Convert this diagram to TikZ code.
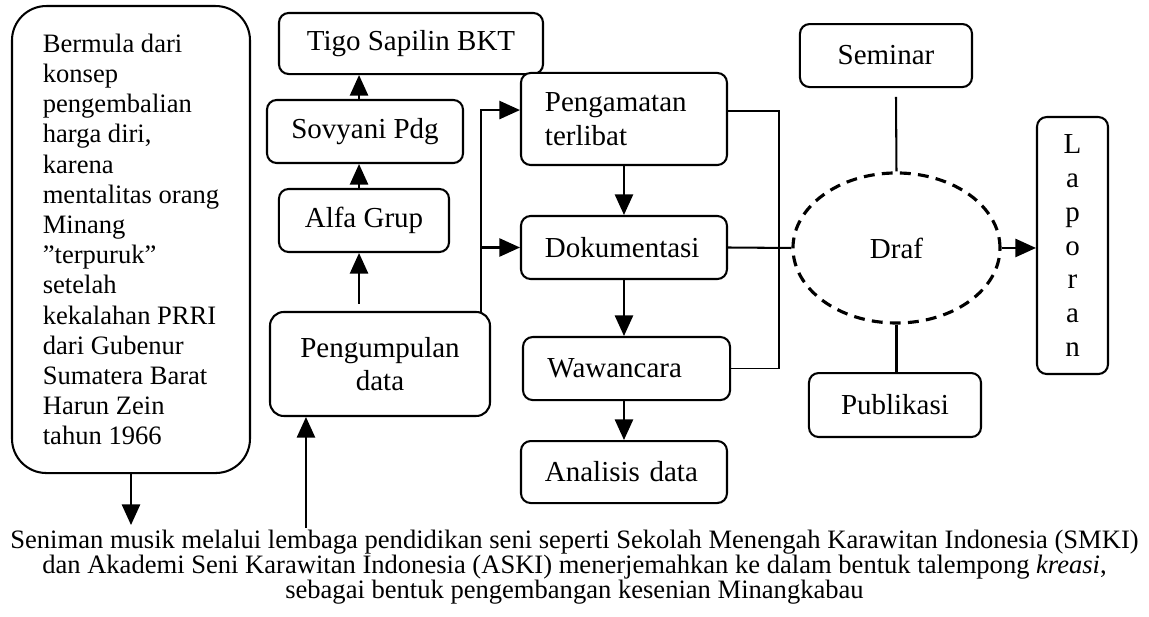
\documentclass[tikz,border=0pt]{standalone}
\usepackage{fontspec}
\setmainfont{Liberation Serif}
\usetikzlibrary{arrows.meta}
\usetikzlibrary{shapes.geometric}
\pgfdeclarelayer{edgelayer}
\pgfdeclarelayer{nodelayer}
\pgfsetlayers{edgelayer,nodelayer,main}
\tikzstyle{none}=[inner sep=0pt]
\tikzstyle{box}=[rectangle,rounded corners=4pt,fill=white,draw=black,line width=0.85pt,inner sep=2pt,align=center,font=\fontsize{12}{14}\selectfont]
\tikzstyle{listbox}=[box,text width=2.3cm,align=left]
\tikzstyle{notebox}=[box,rounded corners=0.5cm,align=left,font=\fontsize{11}{12.5}\selectfont]
\tikzstyle{draft}=[ellipse,fill=white,draw=black,line width=1.3pt,dash pattern=on 4.5pt off 3pt,inner sep=0pt,font=\fontsize{12}{14}\selectfont]
\tikzstyle{caption}=[inner sep=0pt,align=center,font=\fontsize{11}{10.4}\selectfont]
\tikzstyle{transition}=[-{Triangle[length=8.5pt,width=7.5pt]},draw=black,line width=0.85pt]
\tikzstyle{simple}=[-,draw=black,line width=0.85pt]
\tikzstyle{bracket}=[-,draw=black,line width=0.65pt]

\begin{document}
\begin{tikzpicture}
	\useasboundingbox (0,0) rectangle (16.718,-8.977);
	\begin{pgfonlayer}{nodelayer}
		\node [style=notebox, minimum width=3.463cm, minimum height=6.795cm] (0) at (1.906, -3.485) {Bermula dari\\konsep\\pengembalian\\harga diri,\\karena\\mentalitas orang\\Minang\\”terpuruk”\\setelah\\kekalahan PRRI\\dari Gubenur\\Sumatera Barat\\Harun Zein\\tahun 1966};
		\node [style=box, minimum width=3.841cm, minimum height=0.888cm] (1) at (5.980, -0.633) {Tigo Sapilin BKT};
		\node [style=box, minimum width=2.852cm, minimum height=0.917cm] (2) at (5.311, -1.913) {Sovyani Pdg};
		\node [style=box, minimum width=2.474cm, minimum height=0.917cm] (3) at (5.296, -3.208) {Alfa Grup};
		\node [style=box, rounded corners=0.2cm, minimum width=3.201cm, minimum height=1.513cm] (4) at (5.529, -5.296) {Pengumpulan\\data};
		\node [style=listbox, minimum width=2.997cm, minimum height=1.339cm] (5) at (9.079, -1.731) {Pengamatan\\terlibat};
		\node [style=listbox, minimum width=2.997cm, minimum height=0.917cm] (6) at (9.079, -3.601) {Dokumentasi};
		\node [style=listbox, minimum width=3.012cm, minimum height=0.917cm] (7) at (9.116, -5.362) {Wawancara};
		\node [style=listbox, minimum width=2.997cm, minimum height=0.902cm] (8) at (9.079, -6.868) {Analisis data};
		\node [style=box, minimum width=2.503cm, minimum height=0.917cm] (9) at (12.891, -0.808) {Seminar};
		\node [style=draft, minimum width=3.012cm, minimum height=2.183cm] (10) at (13.044, -3.608) {Draf};
		\node [style=box, minimum width=1.033cm, minimum height=3.739cm] (11) at (15.605, -3.572) {L\\a\\p\\o\\r\\a\\n};
		\node [style=box, minimum width=2.503cm, minimum height=0.931cm] (12) at (13.022, -5.893) {Publikasi};
		\node [style=caption] (13) at (8.359, -8.250) {Seniman musik melalui lembaga pendidikan seni seperti Sekolah Menengah Karawitan Indonesia (SMKI)\\dan Akademi Seni Karawitan Indonesia (ASKI) menerjemahkan ke dalam bentuk talempong \textit{kreasi},\\sebagai bentuk pengembangan kesenian Minangkabau};
		\node [style=none] (14) at (5.224, -4.423) {};
		\node [style=none] (15) at (1.906, -7.639) {};
		\node [style=none] (16) at (4.452, -7.682) {};
		\node [style=none] (17) at (6.999, -4.560) {};
		\node [style=none] (18) at (6.999, -1.601) {};
		\node [style=none] (19) at (11.334, -1.615) {};
		\node [style=none] (20) at (13.037, -1.411) {};
	\end{pgfonlayer}
	\begin{pgfonlayer}{edgelayer}
		\draw [style=transition] (14.center |- 2.north) to (14.center |- 1.south);
		\draw [style=transition] (14.center |- 3.north) to (14.center |- 2.south);
		\draw [style=transition] (14.center) to (14.center |- 3.south);
		\draw [style=transition] (0.south) to (15.center);
		\draw [style=transition] (16.center) to (16.center |- 4.south);
		\draw [style=transition] (17.center) |- (5.west |- 18.center);
		\draw [style=transition] (17.center |- 6.west) to (6.west);
		\draw [style=transition] (5.south) to (5.south |- 6.north);
		\draw [style=transition] (6.south) to (6.south |- 7.north);
		\draw [style=transition] (7.south -| 8.north) to (8.north);
		\draw [style=bracket] (5.east |- 19.center) to (19.center) |- (7.east);
		\draw [style=simple] (6.east) to (10.west);
		\draw [style=simple] (20.center) to (10.north);
		\draw [style=simple] (10.south) to (10.south |- 12.north);
		\draw [style=transition] (10.east) to (10.east -| 11.west);
	\end{pgfonlayer}
\end{tikzpicture}
\end{document}
